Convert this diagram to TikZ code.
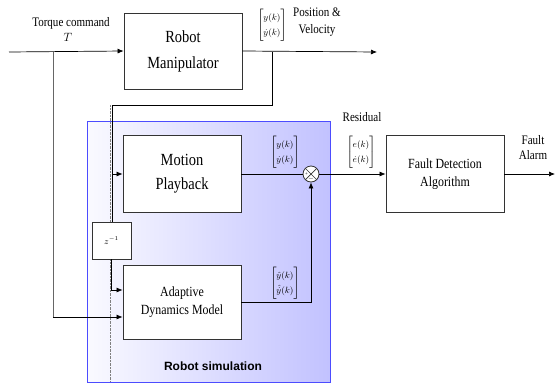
\documentclass[tikz,border=0pt]{standalone}
\usepackage{amsmath}
\usepackage{fontspec}
\setmainfont{Liberation Serif}
\setsansfont{Liberation Sans}
\newfontfamily\condfont[FakeStretch=0.85]{Liberation Serif}
\usetikzlibrary{arrows.meta}
\newcommand{\sigvec}[2]{$\renewcommand{\arraystretch}{1.4}\begin{bmatrix}#1\\#2\end{bmatrix}$}

\begin{document}
\begin{tikzpicture}[x=1pt,y=-1pt,
  block/.style={draw=black!80,line width=0.8pt,fill=white,inner sep=0pt,align=center},
  sig/.style={line width=0.7pt,-{Latex[length=6pt,width=5pt]}},
  wire/.style={line width=0.7pt},
  lbl/.style={inner sep=0pt,align=center,font=\fontsize{13}{15}\condfont},
  vec/.style={inner sep=0pt,font=\fontsize{9.5}{11}\selectfont}]
\useasboundingbox (0,0) rectangle (556,383);

% robot simulation area
\shade[left color=blue!2,right color=blue!24] (87,121) rectangle (330,382);
\draw[blue!70,line width=0.8pt] (87,121) rectangle (330,382);
\node[inner sep=0pt,font=\fontsize{12}{14}\sffamily\bfseries] (simlabel) at (213,366) {Robot simulation};
\draw[gray,densely dotted,line width=0.4pt] (110,105) -- (110,382);

% blocks
\node[block,minimum width=118pt,minimum height=76pt,font=\fontsize{17}{26}\condfont] (robot) at (183,51) {Robot\\Manipulator};
\node[block,minimum width=118pt,minimum height=77pt,font=\fontsize{17}{24}\condfont] (motion) at (182,174) {Motion\\Playback};
\node[block,minimum width=118pt,minimum height=74pt,font=\fontsize{14}{18}\condfont] (adaptive) at (182,302) {Adaptive\\Dynamics Model};
\node[block,minimum width=118pt,minimum height=77pt,font=\fontsize{14}{18}\condfont] (fault) at (445,174) {Fault Detection\\Algorithm};
\node[block,minimum width=39pt,minimum height=37pt,font=\fontsize{9}{11}\selectfont] (delay) at (111.5,240.5) {$z^{-1}$};
\node[draw=black!80,line width=0.8pt,circle,minimum size=16pt,inner sep=0pt,fill=white,
  path picture={
    \draw[line width=0.7pt] (path picture bounding box.north west) -- (path picture bounding box.south east);
    \draw[line width=0.7pt] (path picture bounding box.north east) -- (path picture bounding box.south west);
  }] (sum) at (311,174) {};
\node[inner sep=0pt,font=\fontsize{5}{5}\selectfont] (plus) at ([xshift=-4.5pt]sum.center) {+};
\node[inner sep=0pt,font=\fontsize{6}{6}\selectfont] (minus) at ([yshift=-4.5pt]sum.center) {$-$};

% labels
\node[lbl] (torque) at (71,23) {Torque command};
\node[lbl] (tsym) at (68,37) {$T$};
\node[vec] (yrobot) at (272,25) {\sigvec{y(k)}{\dot{y}(k)}};
\node[lbl] (posvel) at (317,22) {Position \&\\[2pt]Velocity};
\node[vec] (ymotion) at (285,152) {\sigvec{y(k)}{\dot{y}(k)}};
\node[vec] (yadapt) at (285,283) {\sigvec{\hat{y}(k)}{\hat{\dot{y}}(k)}};
\node[lbl] (residual) at (362,117) {Residual};
\node[vec] (evec) at (361,152) {\sigvec{e(k)}{\dot{e}(k)}};
\node[lbl] (alarm) at (533,148) {Fault\\Alarm};

% connectors
\coordinate (src) at (9,52);
\coordinate (tap) at (53,52);
\coordinate (pick) at (272,52);
\coordinate (back) at (112,105);
\coordinate (robotout) at (377,52);
\coordinate (alarmout) at (555,174);
\draw[sig] (src) -- (robot.west);
\draw[sig] (robot.east) -- (robotout);
\draw[wire,black!60] (tap) -- (tap |- 0,317);
\draw[sig] (tap |- 0,317) -- (adaptive.west |- 0,317);
\draw[wire] (pick) |- (back) -- (back |- delay.north);
\draw[sig] (back |- motion.west) -- (motion.west);
\draw[sig] (delay.south) |- (adaptive.west |- 0,290);
\draw[wire] (motion.east) -- (sum.west);
\draw[sig] (adaptive.east) -| (sum.south);
\draw[sig] (sum.east) -- (fault.west);
\draw[sig] (fault.east) -- (alarmout);
\end{tikzpicture}
\end{document}
